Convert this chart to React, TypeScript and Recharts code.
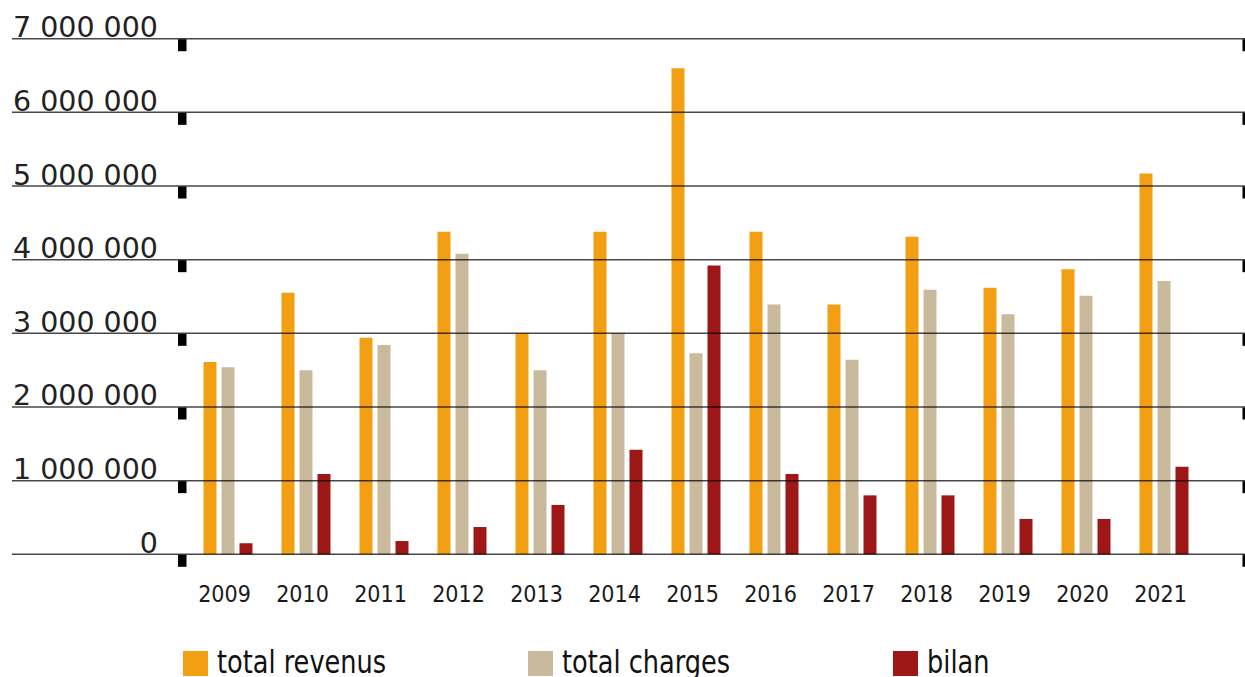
import { BarChart, Bar, XAxis, YAxis, ReferenceLine } from "recharts";

const years = ["2009", "2010", "2011", "2012", "2013", "2014", "2015", "2016", "2017", "2018", "2019", "2020", "2021"];
const revenus = [2610000, 3550000, 2940000, 4380000, 3000000, 4380000, 6600000, 4380000, 3390000, 4310000, 3620000, 3870000, 5170000];
const charges = [2540000, 2500000, 2840000, 4080000, 2500000, 3000000, 2730000, 3390000, 2640000, 3590000, 3260000, 3510000, 3710000];
const bilan = [150000, 1090000, 180000, 370000, 670000, 1420000, 3920000, 1090000, 800000, 800000, 480000, 480000, 1190000];
const yTicks = [0, 1000000, 2000000, 3000000, 4000000, 5000000, 6000000, 7000000];

const series = [
  { key: "revenus", label: "total revenus", color: "#F29F14" },
  { key: "charges", label: "total charges", color: "#CABA9D" },
  { key: "bilan", label: "bilan", color: "#9C1716" },
];

const data = years.map((year, i) => ({
  year,
  revenus: revenus[i],
  charges: charges[i],
  bilan: bilan[i],
}));

const W = 1245;
const H = 677;
const NARROW = "'Liberation Sans Narrow', 'DejaVu Sans Condensed', sans-serif";

function fmt(v: number) {
  return String(v).replace(/\B(?=(\d{3})+(?!\d))/g, " ");
}

function YTick(props: any) {
  const { y, payload } = props;
  return (
    <g>
      <text
        x={158}
        y={y - 1.5}
        textAnchor="end"
        fontFamily="'DejaVu Sans', sans-serif"
        fontSize={28.5}
        fill="#222"
      >
        {fmt(payload.value)}
      </text>
      <rect x={178} y={y + 0.5} width={8.5} height={12} fill="#000" />
      <rect x={W - 2.5} y={y + 0.5} width={2.5} height={12} fill="#000" />
    </g>
  );
}

function XTick(props: any) {
  const { x, payload } = props;
  return (
    <text x={x - 3} y={602} textAnchor="middle" fontFamily={NARROW} fontSize={23} fill="#1a1a1a">
      {payload.value}
    </text>
  );
}

export default function App() {
  return (
    <div style={{ position: "absolute", left: 0, top: 0, width: W, height: H, background: "#fff" }}>
      <BarChart
        width={W}
        height={H}
        data={data}
        margin={{ top: 38.7, right: 0, left: 0, bottom: 62.7 }}
        barSize={13}
        barGap={5}
      >
        <XAxis
          dataKey="year"
          height={60}
          axisLine={false}
          tickLine={false}
          padding={{ left: 176.5, right: 42.5 }}
          tick={<XTick />}
          interval={0}
        />
        <YAxis
          width={12}
          domain={[0, 7000000]}
          ticks={yTicks}
          axisLine={false}
          tickLine={false}
          tick={<YTick />}
          interval={0}
        />
        {series.map((s) => (
          <Bar key={s.key} dataKey={s.key} fill={s.color} isAnimationActive={false} />
        ))}
        {yTicks.map((t) => (
          <ReferenceLine key={t} y={t} stroke="rgba(0,0,0,0.72)" strokeWidth={1.5} />
        ))}
      </BarChart>
      {series.map((s, i) => (
        <div
          key={s.key}
          style={{
            position: "absolute",
            left: [183, 528, 893][i],
            top: 646,
            display: "flex",
            alignItems: "flex-start",
            fontFamily: NARROW,
            fontSize: 32,
            lineHeight: "32px",
            color: "#111",
            whiteSpace: "nowrap",
          }}
        >
          <span style={{ display: "inline-block", width: 25, height: 25, marginTop: 5, marginRight: 9, background: s.color }} />
          <span style={{ display: "inline-block", transform: "scaleX(0.89)", transformOrigin: "left center" }}>{s.label}</span>
        </div>
      ))}
    </div>
  );
}
